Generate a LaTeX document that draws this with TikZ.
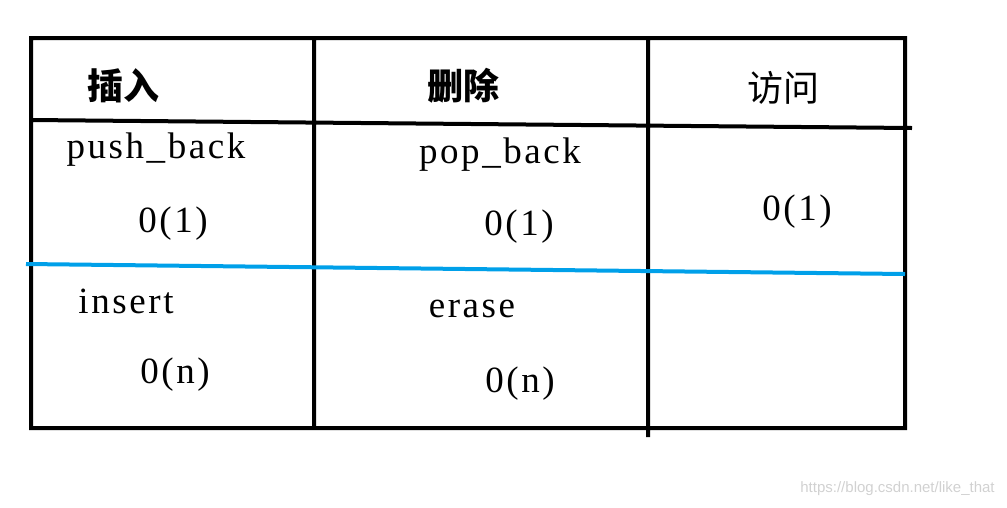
\documentclass[tikz,border=0pt]{standalone}
\usepackage{fontspec}
\setmainfont[LetterSpace=7]{Liberation Serif}
\newfontfamily\cjk{Noto Sans CJK SC}
\newfontfamily\wmfont{Liberation Sans}
\begin{document}
\begin{tikzpicture}[x=1pt,y=-1pt,line width=4pt,
  head/.style={anchor=base,font=\cjk\fontsize{36}{40}\selectfont},
  cell/.style={anchor=base,font=\fontsize{37}{44}\selectfont}]
\useasboundingbox (0,0) rectangle (1007,507);

% outline
\draw (31,38) rectangle (905,428)
      (314,38) -- (314,428)
      (648,38) -- (648,437)
      (31,120) -- (912,128);
\draw[color={rgb,255:red,0;green,160;blue,233}] (26,264) -- (905,274);

% header
\node[head] (ins) at (123,99) {\bfseries 插入};
\node[head] (del) at (463,99) {\bfseries 删除};
\node[head] (acc) at (783,101) {访问};

% cells
\node[cell] (pushback) at (156,158) {push\_back};
\node[cell] (pushcost) at (173,232) {0(1)};
\node[cell] (popback) at (500,163) {pop\_back};
\node[cell] (popcost) at (519,235) {0(1)};
\node[cell] (acccost) at (797,220) {0(1)};
\node[cell] (insert) at (126,313) {insert};
\node[cell] (inscost) at (175,383) {0(n)};
\node[cell] (erase) at (472,317) {erase};
\node[cell] (erasecost) at (520,392) {0(n)};

\node[anchor=east,text=black!18,font=\wmfont\fontsize{15}{18}\selectfont] (mark) at (1000,489) {https://blog.csdn.net/like\_that};
\end{tikzpicture}
\end{document}
